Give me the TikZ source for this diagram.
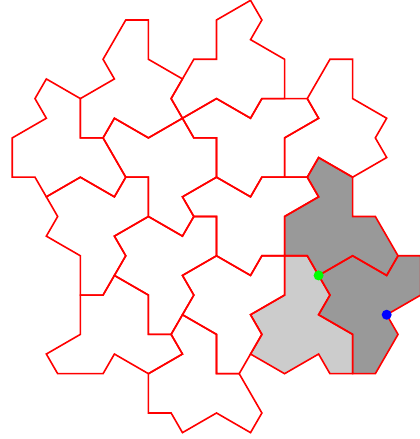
\documentclass[tikz,border=0pt]{standalone}
\definecolor{darkfill}{HTML}{999999}
\definecolor{lightfill}{HTML}{CCCCCC}
\begin{document}
\begin{tikzpicture}[x=11.345pt,y=-19.65pt,
  tile/.style={draw=red, line width=1.6pt, line join=miter},
  dot/.style={circle, inner sep=0pt, minimum size=10pt}]
\path[use as bounding box] (-1.0842,-0.0173) rectangle (35.937,22.324);
% filled tiles
\fill[darkfill] (27,8)--(30,9)--(30,11)--(32,11)--(34,13)--(33,14)--(30,13)--(27,14)--(26,13)--(24,13)--(24,11)--(27,10)--(26,9)--cycle;
\fill[darkfill] (27,14)--(30,13)--(33,14)--(34,13)--(36,13)--(36,15)--(33,16)--(34,17)--(32,19)--(30,19)--(30,17)--(27,16)--(28,15)--cycle;
\fill[lightfill] (24,13)--(26,13)--(28,15)--(27,16)--(30,17)--(30,19)--(28,19)--(27,18)--(24,19)--(21,18)--(22,17)--(21,16)--(24,15)--cycle;
% outlines
\draw[tile] (10,1)--(12,1)--(12,3)--(15,4)--(14,5)--(15,6)--(12,7)--(9,6)--(8,7)--(6,7)--(6,5)--(9,4)--(8,3)--cycle;
\draw[tile] (21,0)--(22,1)--(21,2)--(24,3)--(24,5)--(22,5)--(21,6)--(18,5)--(15,6)--(14,5)--(16,3)--(18,3)--(18,1)--cycle;
\draw[tile] (3,4)--(6,5)--(6,7)--(8,7)--(10,9)--(9,10)--(6,9)--(3,10)--(2,9)--(0,9)--(0,7)--(3,6)--(2,5)--cycle;
\draw[tile] (26,5)--(28,3)--(30,3)--(30,5)--(33,6)--(32,7)--(33,8)--(30,9)--(27,8)--(26,9)--(24,9)--(24,7)--(27,6)--cycle;
\draw[tile] (18,5)--(21,6)--(22,5)--(26,5)--(27,6)--(24,7)--(24,9)--(22,9)--(21,10)--(18,9)--(18,7)--(16,7)--(15,6)--cycle;
\draw[tile] (8,7)--(9,6)--(12,7)--(15,6)--(16,7)--(18,7)--(18,9)--(15,10)--(16,11)--(15,12)--(12,11)--(12,9)--(10,9)--cycle;
\draw[tile] (27,8)--(30,9)--(30,11)--(32,11)--(34,13)--(33,14)--(30,13)--(27,14)--(26,13)--(24,13)--(24,11)--(27,10)--(26,9)--cycle;
\draw[tile] (27,14)--(30,13)--(33,14)--(34,13)--(36,13)--(36,15)--(33,16)--(34,17)--(32,19)--(30,19)--(30,17)--(27,16)--(28,15)--cycle;
\draw[tile] (24,13)--(26,13)--(28,15)--(27,16)--(30,17)--(30,19)--(28,19)--(27,18)--(24,19)--(21,18)--(22,17)--(21,16)--(24,15)--cycle;
\draw[tile] (6,15)--(8,15)--(9,14)--(12,15)--(12,17)--(14,17)--(15,18)--(12,19)--(9,18)--(8,19)--(4,19)--(3,18)--(6,17)--cycle;
\draw[tile] (12,19)--(15,18)--(14,17)--(15,16)--(18,17)--(18,19)--(20,19)--(22,21)--(21,22)--(18,21)--(15,22)--(14,21)--(12,21)--cycle;
\draw[tile] (18,9)--(21,10)--(22,9)--(26,9)--(27,10)--(24,11)--(24,13)--(22,13)--(21,14)--(18,13)--(18,11)--(16,11)--(15,10)--cycle;
\draw[tile] (3,10)--(6,9)--(9,10)--(10,9)--(12,9)--(12,11)--(9,12)--(10,13)--(8,15)--(6,15)--(6,13)--(3,12)--(4,11)--cycle;
\draw[tile] (18,13)--(21,14)--(22,13)--(24,13)--(24,15)--(21,16)--(22,17)--(20,19)--(18,19)--(18,17)--(15,16)--(16,15)--(15,14)--cycle;
\draw[tile] (12,11)--(15,12)--(16,11)--(18,11)--(18,13)--(15,14)--(16,15)--(14,17)--(12,17)--(12,15)--(9,14)--(10,13)--(9,12)--cycle;
% marked points
\node[dot, fill=green] (g) at (27,14) {};
\node[dot, fill=blue] (b) at (33,16) {};
\end{tikzpicture}
\end{document}
